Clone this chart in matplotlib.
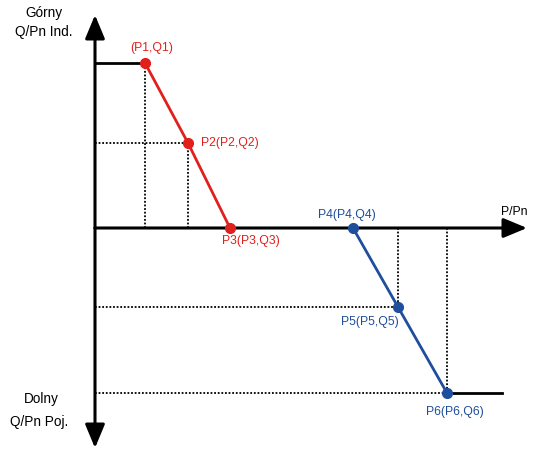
import matplotlib.pyplot as plt

plt.rcParams['font.family'] = ['Liberation Sans', 'DejaVu Sans']

# characteristic points (P/Pn, Q/Pn), arbitrary units
P_upper = [0.50, 0.93, 1.35]
Q_upper = [1.65, 0.85, 0.0]
P_lower = [2.58, 3.03, 3.52]
Q_lower = [0.0, -0.79, -1.65]
labels_upper = ['(P1,Q1)', 'P2(P2,Q2)', 'P3(P3,Q3)']
labels_lower = ['P4(P4,Q4)', 'P5(P5,Q5)', 'P6(P6,Q6)']

red = '#e0201c'
blue = '#1f4e9c'

fig = plt.figure(figsize=(5.35, 4.5), dpi=100)
ax = fig.add_axes([0, 0, 1, 1])
ax.set_xlim(-0.95, 4.40)
ax.set_ylim(-2.22, 2.28)
ax.axis('off')

# axes with arrows
arrow = dict(arrowstyle='-|>,head_length=0.72,head_width=0.3', color='black',
             lw=2.2, mutation_scale=20, shrinkA=0, shrinkB=0)
ax.annotate('', xy=(0, 2.13), xytext=(0, 0), arrowprops=arrow)
ax.annotate('', xy=(0, -2.20), xytext=(0, 0), arrowprops=arrow)
ax.annotate('', xy=(4.32, 0), xytext=(0, 0), arrowprops=arrow)

# flat parts
ax.plot([0, P_upper[0]], [Q_upper[0], Q_upper[0]], color='black', lw=2.0)
ax.plot([P_lower[-1], 4.07], [Q_lower[-1], Q_lower[-1]], color='black', lw=2.0)

# dotted helper lines
dot = dict(color='black', lw=1.3, linestyle=(0, (1, 1)))
ax.plot([P_upper[0], P_upper[0]], [0, Q_upper[0]], **dot)
ax.plot([0, P_upper[1]], [Q_upper[1], Q_upper[1]], **dot)
ax.plot([P_upper[1], P_upper[1]], [0, Q_upper[1]], **dot)
for p, q in zip(P_lower[1:], Q_lower[1:]):
    ax.plot([0, p], [q, q], **dot)
    ax.plot([p, p], [0, q], **dot)

ax.plot(P_upper, Q_upper, color=red, lw=2.0, marker='o', markersize=7, zorder=5)
ax.plot(P_lower, Q_lower, color=blue, lw=2.0, marker='o', markersize=7, zorder=5)

fs = 8.8
ax.text(P_upper[0] + 0.07, Q_upper[0] + 0.15, labels_upper[0], color=red, fontsize=fs, ha='center', va='center')
ax.text(P_upper[1] + 0.13, Q_upper[1], labels_upper[1], color=red, fontsize=fs, ha='left', va='center')
ax.text(P_upper[2] - 0.08, Q_upper[2] - 0.13, labels_upper[2], color=red, fontsize=fs, ha='left', va='center')
ax.text(P_lower[0] - 0.06, Q_lower[0] + 0.13, labels_lower[0], color=blue, fontsize=fs, ha='center', va='center')
ax.text(P_lower[1] - 0.28, Q_lower[1] - 0.15, labels_lower[1], color=blue, fontsize=fs, ha='center', va='center')
ax.text(P_lower[2] + 0.08, Q_lower[2] - 0.19, labels_lower[2], color=blue, fontsize=fs, ha='center', va='center')

ax.text(4.19, 0.16, 'P/Pn', fontsize=fs, ha='center', va='center')
fs2 = 9.8
ax.text(-0.51, 2.15, 'Górny', fontsize=fs2, ha='center', va='center')
ax.text(-0.51, 1.96, 'Q/Pn Ind.', fontsize=fs2, ha='center', va='center')
ax.text(-0.54, -1.71, 'Dolny', fontsize=fs2, ha='center', va='center')
ax.text(-0.56, -1.94, 'Q/Pn Poj.', fontsize=fs2, ha='center', va='center')

fig.savefig('out.png', dpi=100)
